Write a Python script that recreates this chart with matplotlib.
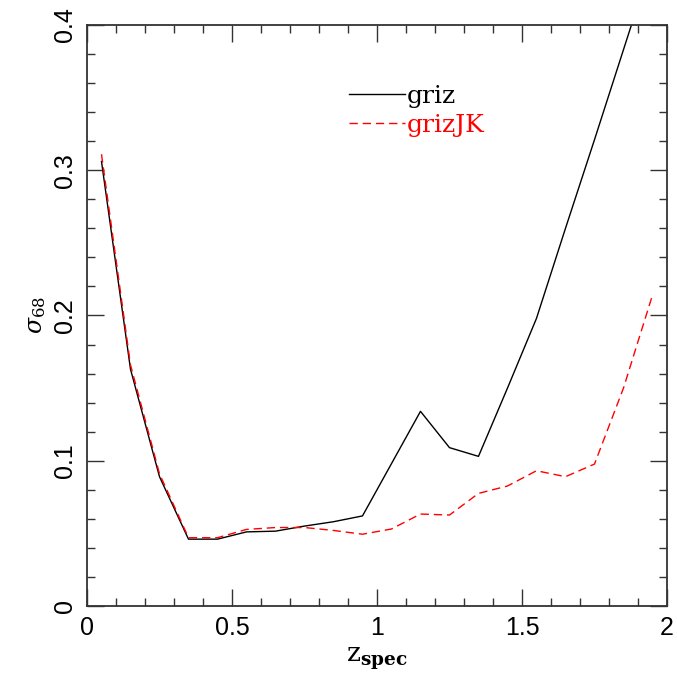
import numpy as np
import matplotlib.pyplot as plt
from matplotlib.ticker import MultipleLocator

# valores
z_spec = [0.05, 0.15, 0.25, 0.35, 0.45, 0.55, 0.65, 0.75, 0.85, 0.95,
          1.05, 1.15, 1.25, 1.35, 1.45, 1.55, 1.65, 1.75, 1.85, 1.95]
sigma_griz = [0.306, 0.163, 0.089, 0.046, 0.046, 0.051, 0.0515, 0.055, 0.058, 0.062,
              0.098, 0.134, 0.109, 0.103, 0.150, 0.198, 0.260, 0.321, 0.383, 0.445]
sigma_grizJK = [0.311, 0.166, 0.091, 0.047, 0.047, 0.0527, 0.054, 0.054, 0.052, 0.0494,
                0.053, 0.0633, 0.0626, 0.0775, 0.0826, 0.0931, 0.089, 0.0977, 0.150, 0.214]

plt.rcParams['mathtext.fontset'] = 'dejavuserif'

fig = plt.figure(figsize=(6.77, 6.73), dpi=100)
ax = fig.add_axes([0.1285, 0.0996, 0.8567, 0.8633])

ax.plot(z_spec, sigma_griz, color='black', lw=1.0, label='griz')
ax.plot(z_spec, sigma_grizJK, color='red', lw=1.0, dashes=(6, 3.5), label='grizJK')

ax.set_xlim(0, 2)
ax.set_ylim(0, 0.4)
ax.xaxis.set_minor_locator(MultipleLocator(0.1))
ax.yaxis.set_minor_locator(MultipleLocator(0.02))
ax.set_xticks([0, 0.5, 1, 1.5, 2])
ax.set_xticklabels(['0', '0.5', '1', '1.5', '2'])
ax.set_yticks([0, 0.1, 0.2, 0.3, 0.4])
ax.set_yticklabels(['0', '0.1', '0.2', '0.3', '0.4'])

ax.tick_params(which='both', direction='in', top=True, right=True, color='#333333', width=1.0)
ax.tick_params(which='major', length=12, pad=7, labelsize=18)
ax.tick_params(which='minor', length=6)
for lab in ax.get_xticklabels() + ax.get_yticklabels():
    lab.set_fontfamily('Liberation Sans')
plt.setp(ax.get_yticklabels(), rotation=90, va='center')
for s in ax.spines.values():
    s.set_linewidth(1.3)
    s.set_color('#333333')

ax.set_xlabel(r'$\mathrm{z}_{\mathbf{spec}}$', fontsize=19, labelpad=4)
ax.set_ylabel(r'$\sigma_{68}$', fontsize=17, labelpad=4)

leg = ax.legend(loc='upper left', bbox_to_anchor=(0.413, 0.935), frameon=False,
                handlelength=2.25, handletextpad=0.05, labelspacing=0.22,
                labelcolor='linecolor', prop={'family': 'DejaVu Serif', 'size': 18})

fig.savefig('out.png', dpi=100)
